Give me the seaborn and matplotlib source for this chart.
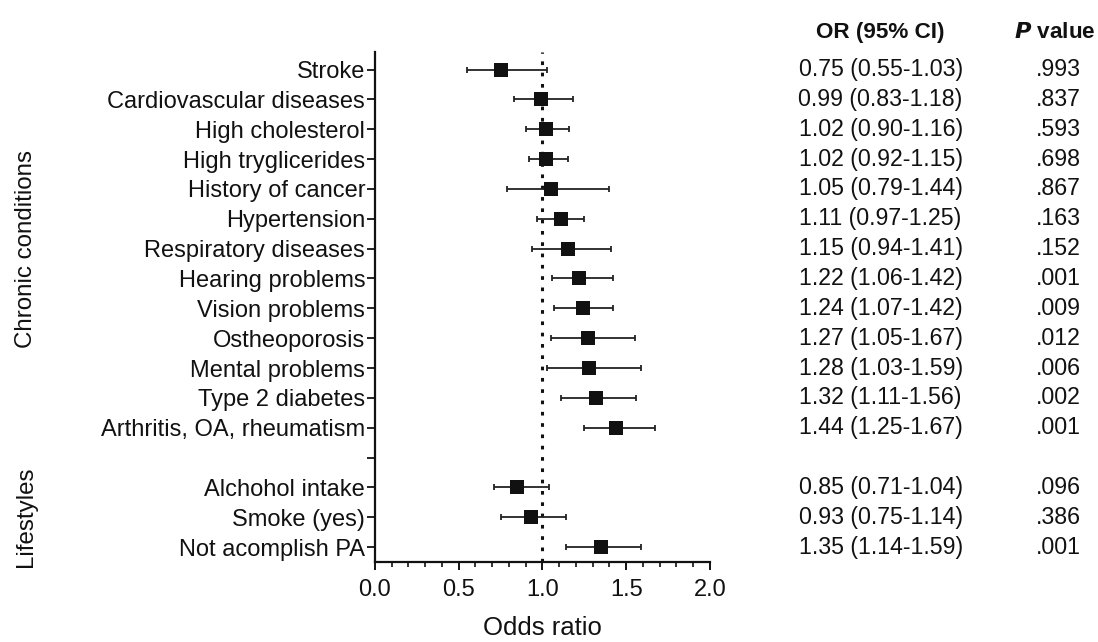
import matplotlib
matplotlib.use("Agg")
import matplotlib.pyplot as plt
import matplotlib.transforms as mtransforms
from matplotlib.ticker import MultipleLocator
import seaborn as sns
import pandas as pd
import numpy as np

labels = ["Stroke", "Cardiovascular diseases", "High cholesterol", "High tryglicerides",
          "History of cancer", "Hypertension", "Respiratory diseases", "Hearing problems",
          "Vision problems", "Ostheoporosis", "Mental problems", "Type 2 diabetes",
          "Arthritis, OA, rheumatism", "", "Alchohol intake", "Smoke (yes)", "Not acomplish PA"]
odds = [0.75, 0.99, 1.02, 1.02, 1.05, 1.11, 1.15, 1.22, 1.24, 1.27, 1.28, 1.32, 1.44,
        np.nan, 0.85, 0.93, 1.35]
ci_low = [0.55, 0.83, 0.90, 0.92, 0.79, 0.97, 0.94, 1.06, 1.07, 1.05, 1.03, 1.11, 1.25,
          np.nan, 0.71, 0.75, 1.14]
ci_high = [1.03, 1.18, 1.16, 1.15, 1.40, 1.25, 1.41, 1.42, 1.42, 1.55, 1.59, 1.56, 1.67,
           np.nan, 1.04, 1.14, 1.59]
or_text = ["0.75 (0.55-1.03)", "0.99 (0.83-1.18)", "1.02 (0.90-1.16)", "1.02 (0.92-1.15)",
           "1.05 (0.79-1.44)", "1.11 (0.97-1.25)", "1.15 (0.94-1.41)", "1.22 (1.06-1.42)",
           "1.24 (1.07-1.42)", "1.27 (1.05-1.67)", "1.28 (1.03-1.59)", "1.32 (1.11-1.56)",
           "1.44 (1.25-1.67)", "", "0.85 (0.71-1.04)", "0.93 (0.75-1.14)", "1.35 (1.14-1.59)"]
p_text = [".993", ".837", ".593", ".698", ".867", ".163", ".152", ".001", ".009", ".012",
          ".006", ".002", ".001", "", ".096", ".386", ".001"]
groups = [("Chronic conditions", 0, 12), ("Lifestyles", 14, 16)]
x_ticks = [0.0, 0.5, 1.0, 1.5, 2.0]

sns.set_theme(style="ticks")
plt.rcParams["font.family"] = ["Liberation Sans", "DejaVu Sans"]

df = pd.DataFrame({"label": labels, "odds": odds, "lo": ci_low, "hi": ci_high})
df["pos"] = np.arange(len(df))
d = df.dropna()

fig = plt.figure(figsize=(10.98, 6.42), dpi=100)
ax = fig.add_axes([0.3415, 0.1246, 0.305, 0.794])

ink = "#111111"
ax.errorbar(d["odds"], d["pos"], xerr=[d["odds"] - d["lo"], d["hi"] - d["odds"]],
            fmt="none", ecolor="#222222", elinewidth=1.3, capsize=2.4, capthick=1.3, zorder=2)
sns.scatterplot(data=d, x="odds", y="pos", marker="s", s=105, color=ink,
                edgecolor=ink, linewidth=0, ax=ax, zorder=3, legend=False)
ax.axvline(1.0, color=ink, linestyle=(0, (1.2, 2.5)), linewidth=2.2, zorder=1)

ax.set_xlim(0, 2.0)
ax.set_ylim(len(labels) - 0.5, -0.58)
ax.set_yticks(df["pos"])
ax.set_yticklabels(labels, fontsize=17, color=ink)
ax.set_xticks(x_ticks)
ax.set_xticklabels([f"{t:.1f}" for t in x_ticks], fontsize=17, color=ink)
ax.xaxis.set_minor_locator(MultipleLocator(0.1))
ax.set_xlabel("Odds ratio", fontsize=18.5, color=ink, labelpad=11)
ax.set_ylabel("")

for side in ["top", "right"]:
    ax.spines[side].set_visible(False)
ax.spines["left"].set_linewidth(1.6)
ax.spines["bottom"].set_linewidth(1.6)
ax.spines["left"].set_color(ink)
ax.spines["bottom"].set_color(ink)
ax.spines["bottom"].set_bounds(0, 2.0)
ax.tick_params(axis="y", length=6, width=1.3, color=ink, pad=1)
ax.tick_params(axis="x", which="major", length=6, width=1.4, color=ink, pad=6)
ax.tick_params(axis="x", which="minor", length=3.5, width=1.2, color=ink)

# group labels
tr = mtransforms.blended_transform_factory(fig.transFigure, ax.transData)
for name, a, b in groups:
    ax.text(0.024, (a + b) / 2, name, transform=tr, rotation=90, ha="center",
            va="center", fontsize=17.4, color=ink)

# table
x_or, x_p = 0.802, 0.9636
for i, (o, p) in enumerate(zip(or_text, p_text)):
    ax.text(x_or, i, o, transform=tr, ha="center", va="center", fontsize=16.7, color=ink)
    ax.text(x_p, i, p, transform=tr, ha="center", va="center", fontsize=16.7, color=ink)
ax.text(x_or, -1.25, "OR (95% CI)", transform=tr, ha="center", va="center",
        fontsize=16.2, fontweight="bold", color=ink)
ax.text(0.9235, -1.25, r"$\boldsymbol{P}$ value", transform=tr, ha="left", va="center",
        fontsize=16.2, fontweight="bold", color=ink)

fig.savefig("out.png", dpi=100, facecolor="white")
